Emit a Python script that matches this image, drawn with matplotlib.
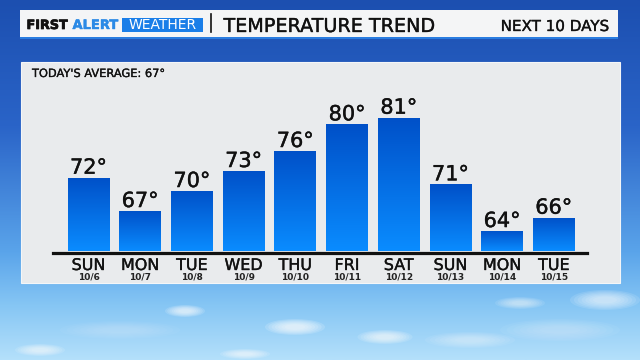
import numpy as np
import matplotlib
matplotlib.use("Agg")
import matplotlib.pyplot as plt
import matplotlib.patheffects as pe
from matplotlib.colors import LinearSegmentedColormap
from matplotlib.patches import Rectangle, Ellipse

# ---- data ----
days = ["SUN", "MON", "TUE", "WED", "THU", "FRI", "SAT", "SUN", "MON", "TUE"]
dates = ["10/6", "10/7", "10/8", "10/9", "10/10", "10/11", "10/12", "10/13", "10/14", "10/15"]
temps = [72, 67, 70, 73, 76, 80, 81, 71, 64, 66]
brand_1 = "FIRST"
brand_2 = "ALERT"
brand_3 = "WEATHER"
title = "TEMPERATURE TREND"
subtitle = "NEXT 10 DAYS"
average_label = "TODAY'S AVERAGE: 67°"

plt.rcParams['font.family'] = ['DejaVu Sans']

W, H = 640, 360
fig = plt.figure(figsize=(6.4, 3.6), dpi=100)


def medium(color, w=0.3):
    return [pe.withStroke(linewidth=w, foreground=color)]


# ---- background (pixel coordinates) ----
bg = fig.add_axes([0, 0, 1, 1])
bg.set_xlim(0, W)
bg.set_ylim(H, 0)
bg.axis('off')
sky = LinearSegmentedColormap.from_list(
    "sky", [(0.0, "#1c4fb0"), (0.35, "#2a64c8"), (0.7, "#5aa4ea"),
            (0.85, "#86c6f4"), (1.0, "#b4e0fb")])
grad = np.linspace(0, 1, 256).reshape(-1, 1)
bg.imshow(grad, cmap=sky, aspect='auto', extent=(0, W, H, 0), zorder=0)
clouds = [(185, 311, 40, 12, 0.6), (295, 327, 60, 16, 0.65),
          (385, 337, 55, 14, 0.55), (245, 354, 50, 10, 0.5),
          (40, 350, 50, 12, 0.5), (520, 303, 50, 12, 0.4),
          (605, 300, 70, 20, 0.5), (470, 340, 90, 16, 0.3),
          (120, 330, 120, 18, 0.15), (560, 330, 120, 22, 0.2)]
for (cx, cy, w, h, a) in clouds:
    n = 7
    for k in range(n):
        s = 1.0 - k * 0.11
        bg.add_patch(Ellipse((cx, cy), w * s, h * s, facecolor='white',
                             alpha=a / n * 1.6, edgecolor='none', zorder=1))

# header bar
bg.add_patch(Rectangle((20, 10), 598, 27, facecolor='#f4f5f6', edgecolor='none', zorder=2))
bg.add_patch(Rectangle((20, 36.5), 598, 2.5, facecolor='#2a7de0', edgecolor='none', zorder=2))
bg.text(26.5, 29, brand_1, fontsize=9.2, fontweight='bold', color='#111111', zorder=3,
        path_effects=medium('#111111', 0.5))
bg.text(72.5, 29, brand_2, fontsize=9.4, fontweight='bold', color='#2b8ae6', zorder=3,
        path_effects=medium('#2b8ae6', 0.3))
bg.add_patch(Rectangle((121.7, 17.7), 81.6, 14, facecolor='#1a7ee8', edgecolor='none', zorder=2))
bg.text(162.5, 29, brand_3, fontsize=10, color='white', ha='center', zorder=3)
bg.plot([211, 211], [14, 31.5], color='#111111', lw=1.2, zorder=3)
bg.text(223.5, 32, title, fontsize=13.8, color='#111111', zorder=3,
        path_effects=medium('#111111', 0.25))
bg.text(609, 31, subtitle, fontsize=10.9, color='#111111', ha='right', zorder=3,
        path_effects=medium('#111111', 0.25))

# chart panel
bg.add_patch(Rectangle((20.5, 61.5), 599, 221.5, facecolor='#e9ebed',
                       edgecolor='#f4f6f8', lw=0.8, zorder=2))
bg.text(32, 77, average_label, fontsize=8.2, color='#111111', zorder=3,
        path_effects=medium('#111111', 0.2))

# ---- chart axes ----
ax = fig.add_axes([53 / W, 1 - 252.7 / H, 534 / W, (252.7 - 80) / H])
ax.patch.set_alpha(0)
BASE = 61
x = np.arange(len(temps))
bars = ax.bar(x, [t - BASE for t in temps], bottom=BASE, width=0.81,
              color='#0a6ee8', edgecolor='none', zorder=2)
barmap = LinearSegmentedColormap.from_list("bar", ["#0050c8", "#0a8cff"])
for b in bars:
    x0, y0 = b.get_x(), b.get_y()
    im = ax.imshow(grad, cmap=barmap, aspect='auto', zorder=3,
                   extent=(x0, x0 + b.get_width(), y0, y0 + b.get_height()),
                   origin='upper')
    im.set_clip_path(b)
ax.set_xlim(-0.687, 9.64)
ax.set_ylim(60.75, 86.65)
ax.axis('off')

ax.axhline(60.75, xmin=0, xmax=1, color='#111111', lw=2.3, clip_on=False, zorder=4)

for i, t in enumerate(temps):
    ax.text(i, t + 0.6, f"{t}°", ha='center', va='baseline', fontsize=15,
            color='#111111', zorder=5, clip_on=False,
            path_effects=medium('#111111', 0.3))

tr = ax.get_xaxis_transform()
for i, (d, dt) in enumerate(zip(days, dates)):
    ax.text(i, -0.1002, d, transform=tr, ha='center', va='baseline',
            fontsize=11.5, color='#111111', clip_on=False,
            path_effects=medium('#111111', 0.25))
    ax.text(i, -0.158, dt, transform=tr, ha='center', va='baseline',
            fontsize=6.5, fontweight='bold', color='#222222', clip_on=False)

fig.savefig("out.png", dpi=100)
